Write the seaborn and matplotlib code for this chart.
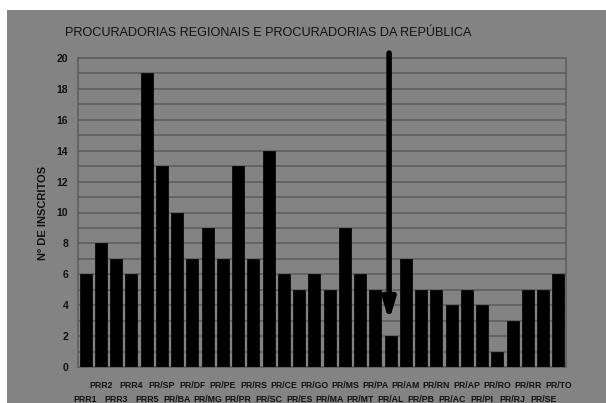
import matplotlib
matplotlib.use("Agg")
import matplotlib.pyplot as plt
import seaborn as sns
import pandas as pd
from matplotlib.patches import Rectangle

# Data
labels = ["PRR1", "PRR2", "PRR3", "PRR4", "PRR5", "PR/SP", "PR/BA", "PR/DF",
          "PR/MG", "PR/PE", "PR/PR", "PR/RS", "PR/SC", "PR/CE", "PR/ES", "PR/GO",
          "PR/MA", "PR/MS", "PR/MT", "PR/PA", "PR/AL", "PR/AM", "PR/PB", "PR/RN",
          "PR/AC", "PR/AP", "PR/PI", "PR/RO", "PR/RJ", "PR/RR", "PR/SE", "PR/TO"]
inscritos = [6, 8, 7, 6, 19, 13, 10, 7, 9, 7, 13, 7, 14, 6, 5, 6,
             5, 9, 6, 5, 2, 7, 5, 5, 4, 5, 4, 1, 3, 5, 5, 6]
highlight = "PR/AL"

df = pd.DataFrame({"Procuradoria": labels, "Inscritos": inscritos})

bg = "#838383"
grid_col = "#5e5e5e"
font = ["Liberation Sans Narrow", "Liberation Sans", "DejaVu Sans"]

sns.set_theme(style="white")
plt.rcParams["font.family"] = font

fig = plt.figure(figsize=(6.06, 4.03), dpi=100, facecolor="white")
# gray panel with a thin white margin on top and left, as in the scan
fig.patches.append(Rectangle((7 / 606, 0), 1, 1 - 10 / 403, transform=fig.transFigure,
                             facecolor=bg, edgecolor="none", zorder=-10))
ax = fig.add_axes([78 / 606, 36 / 403, 488 / 606, 309 / 403])
ax.set_facecolor(bg)

sns.barplot(data=df, x="Procuradoria", y="Inscritos", color="black",
            saturation=1, width=0.8, edgecolor="black", linewidth=0.5, ax=ax, zorder=3)

ax.set_ylim(0, 20)
ax.set_xlim(-0.5, len(labels) - 0.5)
ax.set_yticks(range(0, 21, 2))
ax.set_yticks(range(0, 21, 1), minor=True)
ax.yaxis.grid(True, which="both", color=grid_col, linewidth=1.2, zorder=0)
ax.set_axisbelow(True)

# staggered category labels: odd ones on the upper row, even ones below
ax.set_xticks(range(len(labels)))
ax.set_xticks([i + 0.5 for i in range(-1, len(labels))], minor=True)
ax.set_xticklabels(labels, fontsize=6.3, fontweight="bold", color="#111111")
ax.tick_params(axis="x", which="major", length=0)
for i, tick in enumerate(ax.xaxis.get_major_ticks()):
    tick.set_pad(20 if i % 2 == 0 else 10)
ax.tick_params(axis="x", which="minor", length=3, color=grid_col, width=1, direction="out")
ax.tick_params(axis="y", which="major", length=4, color=grid_col, width=1,
               labelsize=7.5, pad=3, direction="out")
ax.tick_params(axis="y", which="minor", length=0)
for lab in ax.get_yticklabels():
    lab.set_fontweight("bold")
    lab.set_color("#111111")

for sp in ax.spines.values():
    sp.set_visible(True)
    sp.set_color(grid_col)
    sp.set_linewidth(1.2)

ax.set_xlabel("")
ax.set_ylabel("Nº DE INSCRITOS", fontsize=8, fontweight="bold", color="#111111", labelpad=6)

# hand-drawn arrow pointing to the highlighted bar
xi = labels.index(highlight)
ax.annotate("", xy=(xi - 0.1, inscritos[xi] + 0.8), xytext=(xi - 0.1, 20.5),
            xycoords="data", textcoords="data", annotation_clip=False,
            arrowprops=dict(arrowstyle="-|>,head_width=0.3,head_length=1.0",
                            color="black", lw=4), zorder=5)

fig.text(268 / 606, 1 - 33 / 403, "PROCURADORIAS REGIONAIS E PROCURADORIAS DA REPÚBLICA",
         ha="center", va="center", fontsize=9.1, color="#111111")

fig.savefig("out.png", dpi=100, facecolor="white")
